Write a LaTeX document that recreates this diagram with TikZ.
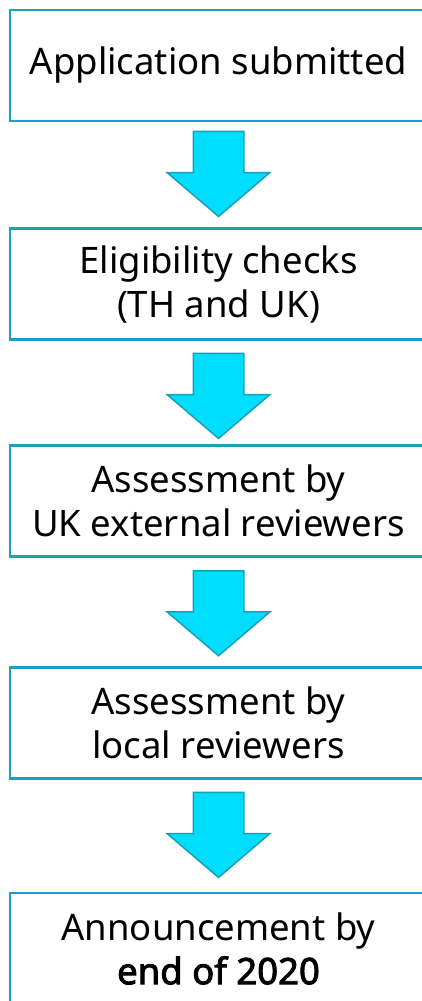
\documentclass[tikz,border=0pt]{standalone}
\usepackage{fontspec}
\setmainfont{Noto Sans}[AutoFakeBold=2.5]
\usepackage{tikz}
\usetikzlibrary{
    positioning,   % Relative positioning
    shapes.arrows  % Block arrows
}
\definecolor{StepTeal}{RGB}{24, 162, 189}
\definecolor{ArrowCyan}{RGB}{0, 221, 255}
\definecolor{ArrowEdge}{RGB}{26, 160, 181}

\tikzset{
    stepbox/.style={draw=StepTeal, line width=2.5pt, fill=white,
        minimum width=417pt, minimum height=111pt, inner sep=0pt,
        align=center, font=\fontsize{36.5}{44}\selectfont},
    downarrow/.style={single arrow, shape border rotate=270, anchor=tail,
        fill=ArrowCyan, draw=ArrowEdge, line width=1.5pt, inner sep=24.5pt,
        minimum height=85pt, minimum width=101pt,
        single arrow head extend=26pt, single arrow tip angle=99}
}

\begin{document}
\begin{tikzpicture}[x=1pt, y=-1pt]
    \useasboundingbox (0, 0) rectangle (421, 1001);

    % Steps
    \node[stepbox] (submit) at (218.5, 65.5) {Application submitted};
    \node[stepbox] (elig) at (218.5, 284.2) {Eligibility checks\\(TH and UK)};
    \node[stepbox] (ukrev) at (218.5, 500.8) {Assessment by\\UK external reviewers};
    \node[stepbox] (localrev) at (218.5, 722.9) {Assessment by\\local reviewers};
    \node[stepbox] (announce) at (218.5, 948.5) {Announcement by\\\textbf{end of 2020}};

    % Arrows between steps
    \node[downarrow] (a1) at (218.5, 130.7) {};
    \node[downarrow] (a2) at (218.5, 352.7) {};
    \node[downarrow] (a3) at (218.5, 570.0) {};
    \node[downarrow] (a4) at (218.5, 791.7) {};
\end{tikzpicture}
\end{document}
